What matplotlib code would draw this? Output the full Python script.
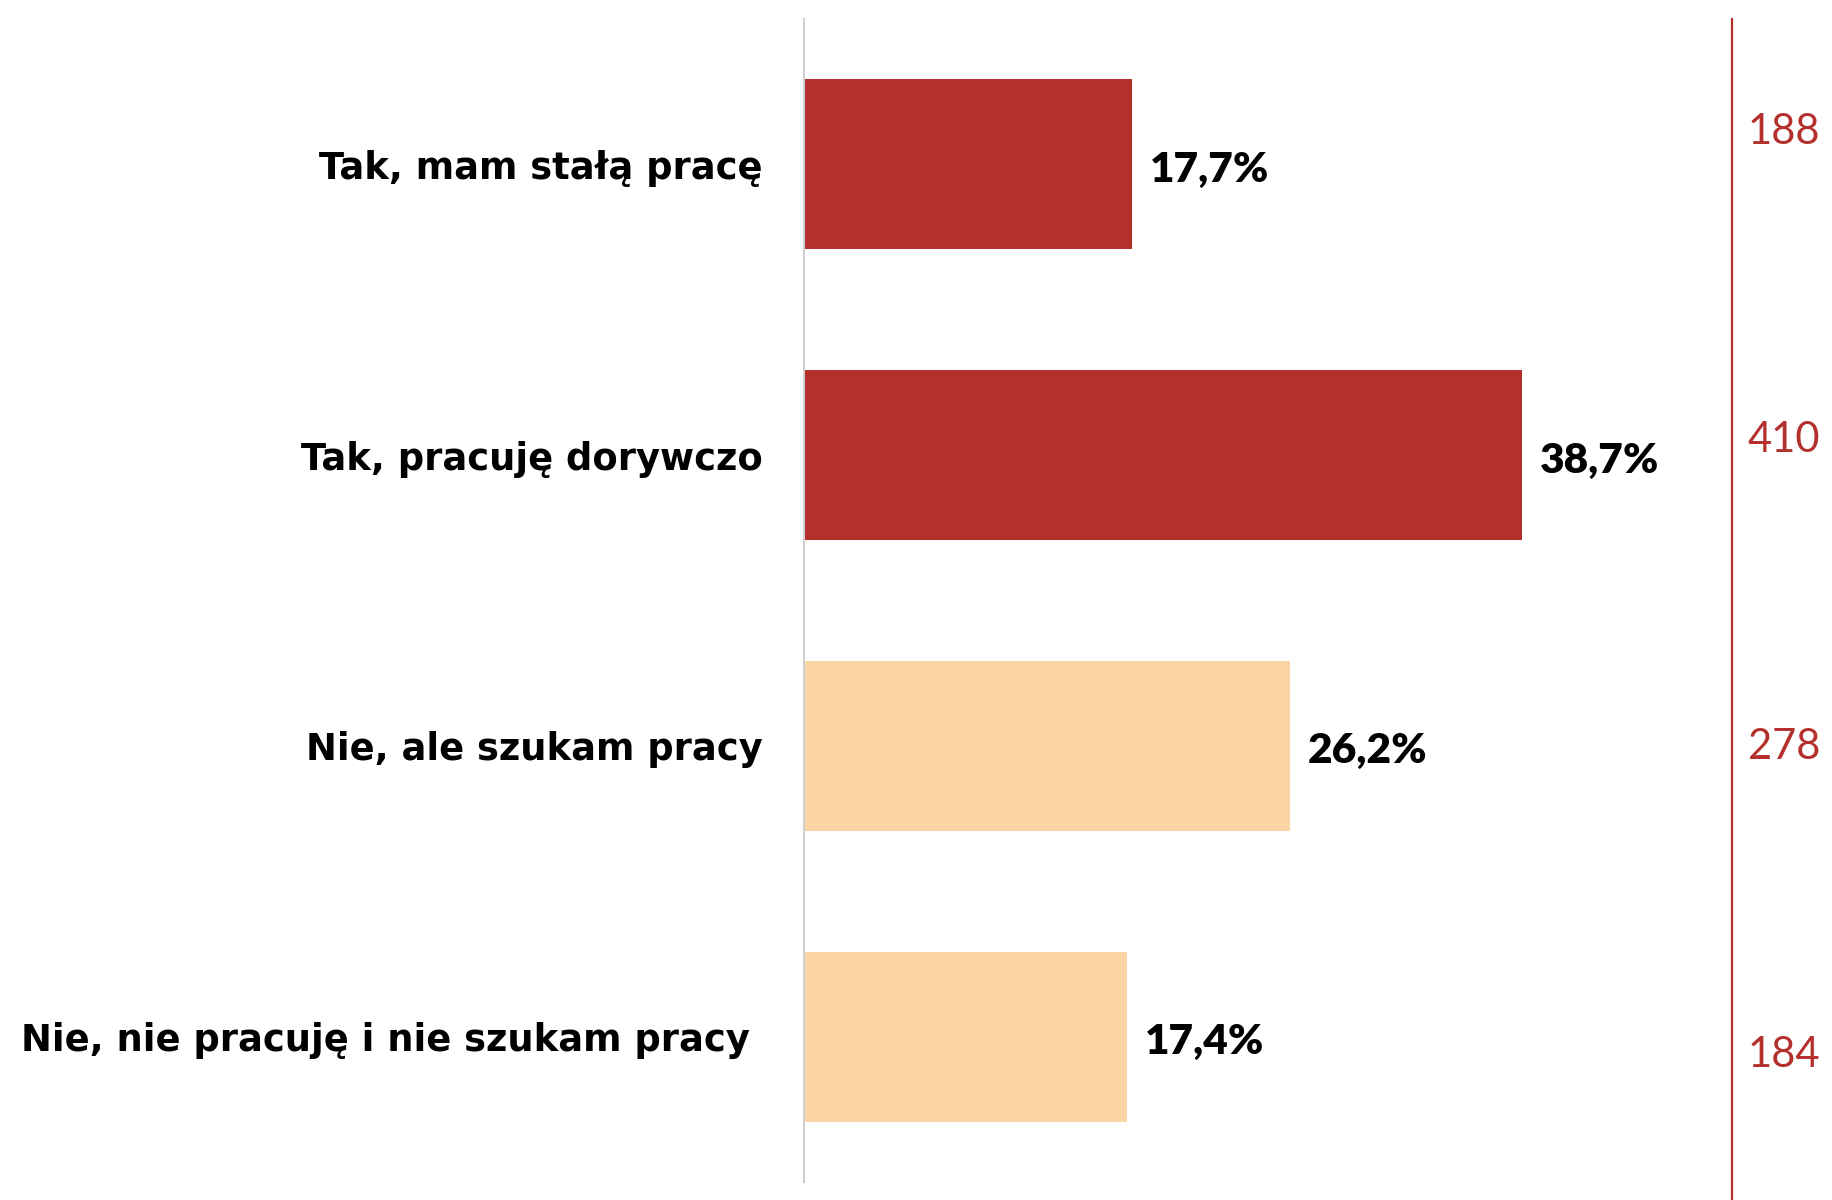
import matplotlib
matplotlib.use("Agg")
import matplotlib.pyplot as plt

categories = ["Tak, mam stałą pracę", "Tak, pracuję dorywczo",
              "Nie, ale szukam pracy", "Nie, nie pracuję i nie szukam pracy "]
percent = [17.7, 38.7, 26.2, 17.4]
labels = ["17,7%", "38,7%", "26,2%", "17,4%"]
counts = [188, 410, 278, 184]

RED = "#B3302D"
PEACH = "#FCD5A5"
colors = [RED, RED, PEACH, PEACH]

W, H = 1832, 1200
fig = plt.figure(figsize=(W / 100, H / 100), dpi=100)
LAB_FONT = ["DejaVu Sans"]
NUM_FONT = ["Lato", "DejaVu Sans"]

# main bar axes
x0, x1 = 804, 1732
y_top, y_bot = 19, 1182
ax = fig.add_axes([x0 / W, 1 - y_bot / H, (x1 - x0) / W, (y_bot - y_top) / H])
ypos = list(range(len(categories)))
ax.barh(ypos, percent, height=0.584, color=colors, edgecolor="none")
ax.set_xlim(0, (x1 - x0) / 18.55)
ax.set_ylim(len(categories) - 0.5, -0.5)
for s in ["top", "right", "bottom"]:
    ax.spines[s].set_visible(False)
ax.spines["left"].set_color("#D0D0D0")
ax.spines["left"].set_linewidth(1.5)
ax.set_xticks([])
ax.set_yticks(ypos)
ax.set_yticklabels(categories, fontsize=26.6, fontweight="bold", family=LAB_FONT)
ax.tick_params(axis="y", length=0, pad=30)

for i, (v, lab) in enumerate(zip(percent, labels)):
    ax.annotate(lab, xy=(v, i), xytext=(13, -4), textcoords="offset points",
                ha="left", va="center", fontsize=30.5, fontweight="heavy",
                family=NUM_FONT, color="black", annotation_clip=False)

# right-side count axis
rx = 1732
ax2 = fig.add_axes([rx / W, 0, (W - rx) / W, (H - 19) / H])
ax2.set_ylim(3.471, -0.367)
ax2.set_xlim(0, 1)
for s in ["top", "right", "bottom"]:
    ax2.spines[s].set_visible(False)
ax2.spines["left"].set_color(RED)
ax2.spines["left"].set_linewidth(1.6)
ax2.set_xticks([])
ax2.set_yticks([])
ax2.patch.set_alpha(0)
for i, c in enumerate(counts):
    ax2.text(0.88, i, str(c), ha="right", va="center", fontsize=30,
             family=NUM_FONT, fontweight="normal", color=RED)

fig.savefig("out.png", dpi=100, facecolor="white")
